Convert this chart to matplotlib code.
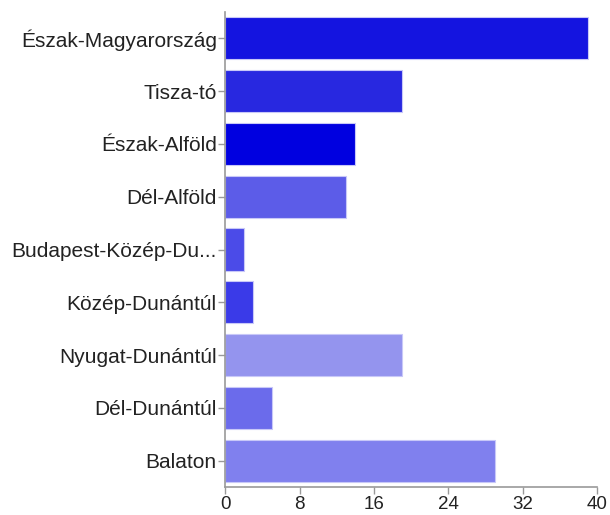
#importing library
import matplotlib.pyplot as plt

#data of the chart (top to bottom)
regions = ["Észak-Magyarország", "Tisza-tó", "Észak-Alföld", "Dél-Alföld",
           "Budapest-Közép-Du...", "Közép-Dunántúl", "Nyugat-Dunántúl",
           "Dél-Dunántúl", "Balaton"]
values = [39, 19, 14, 13, 2, 3, 19, 5, 29]
colors = ["#1414e0", "#2828e0", "#0000e0", "#5c5ce8", "#4b4be8",
          "#3a3ae8", "#9494ee", "#6b6beb", "#8080ee"]
x_ticks = [0, 8, 16, 24, 32, 40]

plt.rcParams['font.family'] = ['Liberation Sans', 'DejaVu Sans']

fig = plt.figure(figsize=(6.10, 5.15), dpi=100)
ax = fig.add_axes([0.369, 0.054, 0.610, 0.923])

pos = list(range(len(regions)))
ax.barh(pos, values, height=0.8, color=colors, edgecolor="#c8c8f8", linewidth=0.8)

ax.set_ylim(len(regions) - 0.5, -0.5)
ax.set_xlim(0, 40)
ax.set_yticks(pos)
ax.set_yticklabels(regions, fontsize=15, color="#222222")
ax.set_xticks(x_ticks)
ax.set_xticklabels([str(t) for t in x_ticks], fontsize=13.5, color="#222222")

for s in ["top", "right"]:
    ax.spines[s].set_visible(False)
for s in ["left", "bottom"]:
    ax.spines[s].set_color("#999999")
    ax.spines[s].set_linewidth(1.2)
ax.tick_params(axis="both", colors="#999999", length=5, width=1, labelcolor="#222222")
ax.tick_params(axis="y", pad=1)
ax.tick_params(axis="x", pad=1)

fig.savefig("out.png", dpi=100)
